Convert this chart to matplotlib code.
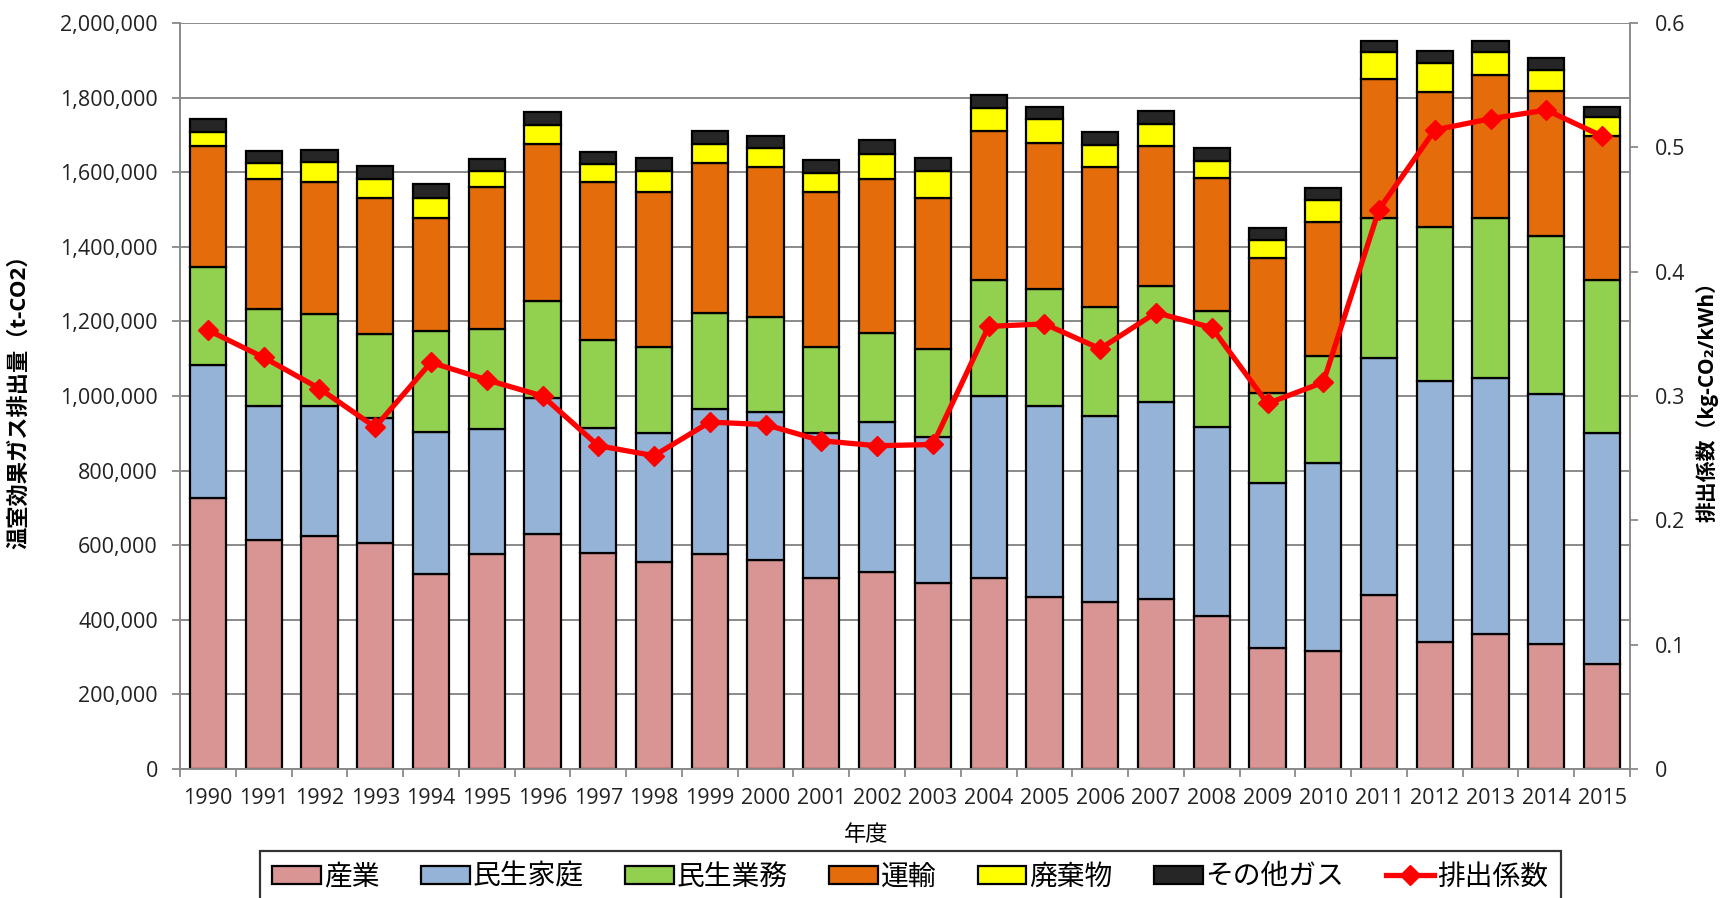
import matplotlib
matplotlib.use("Agg")
import matplotlib.pyplot as plt
import numpy as np
from matplotlib.ticker import FuncFormatter, FixedLocator
from matplotlib.patches import Patch
from matplotlib.lines import Line2D

plt.rcParams['font.family'] = ['Open Sans', 'Noto Sans CJK JP', 'DejaVu Sans']

years = [str(y) for y in range(1990, 2016)]

# t-CO2 by sector
sangyo = [726, 614, 625, 607, 523, 577, 629, 578, 554, 577, 560, 513, 527,
          500, 513, 460, 449, 456, 410, 325, 316, 467, 341, 361, 334, 281]
katei = [357, 358, 347, 333, 380, 335, 365, 337, 346, 388, 397, 387, 403,
         389, 488, 514, 498, 527, 508, 443, 504, 636, 700, 688, 671, 621]
gyomu = [264, 261, 247, 226, 272, 268, 261, 235, 232, 257, 256, 232, 238,
         236, 310, 313, 291, 313, 310, 241, 286, 374, 411, 428, 425, 409]
unyu = [324, 348, 354, 364, 302, 379, 420, 425, 416, 404, 400, 416, 413,
        405, 400, 391, 377, 373, 356, 360, 360, 373, 364, 384, 388, 385]
haiki = [36, 43, 54, 52, 55, 45, 52, 47, 56, 50, 51, 51, 67,
         72, 61, 64, 58, 61, 45, 48, 60, 72, 78, 61, 56, 51]
sonota = [36, 33, 33, 35, 36, 31, 34, 33, 35, 35, 34, 34, 39,
          37, 35, 34, 34, 35, 35, 33, 31, 30, 30, 30, 32, 29]

# kg-CO2/kWh
keisu = [0.353, 0.331, 0.306, 0.275, 0.327, 0.313, 0.300, 0.260, 0.252, 0.279,
         0.277, 0.264, 0.260, 0.261, 0.356, 0.358, 0.338, 0.367, 0.355, 0.294,
         0.311, 0.450, 0.514, 0.523, 0.530, 0.509]

labels = ['産業', '民生家庭', '民生業務', '運輸', '廃棄物', 'その他ガス']
colors = ['#D99594', '#95B3D7', '#92D050', '#E46C0A', '#FFFF00', '#262626']
series = [sangyo, katei, gyomu, unyu, haiki, sonota]

fig = plt.figure(figsize=(17.24, 8.98), dpi=100)
ax = fig.add_axes([180 / 1724, 1 - 769 / 898, 1450 / 1724, 746 / 898])

x = np.arange(len(years))
bottom = np.zeros(len(years))
for vals, c, lab in zip(series, colors, labels):
    v = np.array(vals) * 1000.0
    ax.bar(x, v, 0.65, bottom=bottom, color=c, edgecolor='black',
           linewidth=1.6, label=lab, zorder=2)
    bottom += v

ax.set_xlim(-0.5, len(years) - 0.5)
ax.set_ylim(0, 2000000)
ax.set_yticks(np.arange(0, 2000001, 200000))
ax.yaxis.set_major_formatter(FuncFormatter(lambda v, p: f'{v:,.0f}'))
ax.grid(axis='y', color='#8a8a8a', linewidth=1.4)
ax.set_axisbelow(True)

ax.set_xticks(x)
ax.set_xticklabels(years)
ax.xaxis.set_minor_locator(FixedLocator(np.arange(-0.5, len(years), 1.0)))
ax.tick_params(axis='x', which='major', length=0, labelsize=15.5,
               labelcolor='#222222', pad=14)
ax.tick_params(axis='x', which='minor', length=6, width=1.3, color='#8a8a8a',
               direction='out')
ax.tick_params(axis='y', length=6, width=1.3, color='#8a8a8a',
               labelsize=15.5, labelcolor='#222222', pad=10)

for s in ['top', 'right']:
    ax.spines[s].set_visible(False)
for s in ['left', 'bottom']:
    ax.spines[s].set_color('#8a8a8a')
    ax.spines[s].set_linewidth(1.4)

ax.set_ylabel('温室効果ガス排出量（t-CO2）', fontsize=16, fontweight='bold')
ax.yaxis.set_label_coords(-0.103, 0.5)
ax.set_xlabel('年度', fontsize=16)
ax.xaxis.set_label_coords(0.473, -0.075)

ax2 = ax.twinx()
ax2.plot(x, keisu, color='#FF0000', linewidth=3.8, marker='D',
         markersize=10, zorder=5)
ax2.set_ylim(0, 0.6)
ax2.set_yticks(np.arange(0, 0.61, 0.1))
ax2.yaxis.set_major_formatter(
    FuncFormatter(lambda v, p: '0' if abs(v) < 1e-9 else f'{v:.1f}'))
ax2.tick_params(axis='y', length=6, width=1.3, color='#8a8a8a',
                labelsize=15.5, labelcolor='#222222', pad=12)
for s in ['top', 'left', 'bottom']:
    ax2.spines[s].set_visible(False)
ax2.spines['right'].set_color('#8a8a8a')
ax2.spines['right'].set_linewidth(1.4)
ax2.set_ylabel('排出係数（kg-CO₂/kWh）', fontsize=15, fontweight='bold')
ax2.yaxis.set_label_coords(1.045, 0.5)

handles = [Patch(facecolor=c, edgecolor='black', linewidth=1.6)
           for c in colors]
handles.append(Line2D([0], [0], color='#FF0000', linewidth=3.8, marker='D',
                      markersize=10))
leg = fig.legend(handles, labels + ['排出係数'], loc='upper center',
                 bbox_to_anchor=(0.528, 1 - 851 / 898), ncol=7, fontsize=20,
                 frameon=True, fancybox=False, edgecolor='black',
                 handlelength=1.75, handleheight=0.6, handletextpad=0.1,
                 columnspacing=1.5, borderpad=0.45, borderaxespad=0)
leg.get_frame().set_linewidth(1.6)

fig.savefig('out.png', dpi=100)
